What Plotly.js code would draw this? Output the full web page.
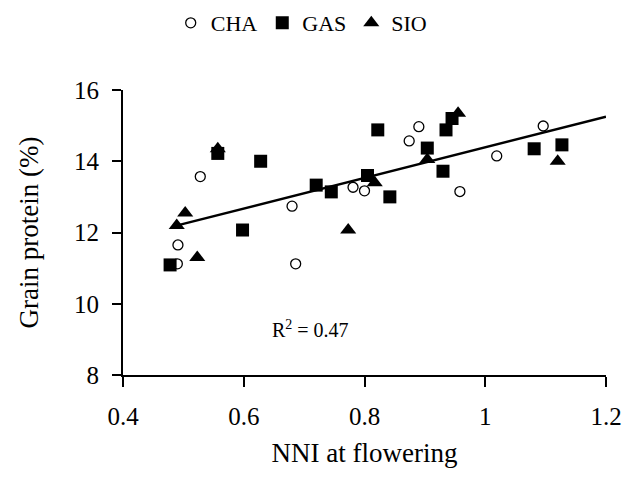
<!DOCTYPE html>
<html>
<head>
<meta charset="utf-8">
<script src="https://cdn.plot.ly/plotly-3.0.1.min.js"></script>
<style>html,body{margin:0;padding:0;background:#fff;}#chart{width:623px;height:494px;}</style>
</head>
<body>
<div id="chart"></div>
<script>
// CHA (open circles)
const chaX = [0.490, 0.491, 0.528, 0.680, 0.686, 0.781, 0.800, 0.874, 0.890, 0.958, 1.019, 1.096];
const chaY = [11.12, 11.65, 13.57, 12.74, 11.12, 13.27, 13.17, 14.57, 14.97, 13.15, 14.15, 14.99];
// GAS (filled squares)
const gasX = [0.478, 0.557, 0.598, 0.628, 0.720, 0.745, 0.805, 0.822, 0.842, 0.904, 0.930, 0.935, 0.945, 1.081, 1.127];
const gasY = [11.09, 14.22, 12.07, 14.00, 13.33, 13.14, 13.60, 14.88, 13.00, 14.37, 13.72, 14.88, 15.20, 14.35, 14.46];
// SIO (filled triangles)
const sioX = [0.489, 0.503, 0.523, 0.557, 0.773, 0.817, 0.904, 0.955, 1.120];
const sioY = [12.20, 12.55, 11.30, 14.35, 12.07, 13.40, 14.05, 15.35, 14.00];
// fitted line
const fitX = [0.49, 1.2];
const fitY = [12.2, 15.25];
const r2Label = "R<sup>2</sup> = 0.47";
const xTicks = [0.4, 0.6, 0.8, 1, 1.2];
const yTicks = [8, 10, 12, 14, 16];

const serif = "Liberation Serif, Times New Roman, serif";

const traces = [
  {x: fitX, y: fitY, mode: 'lines', line: {color: '#000', width: 2.5}, showlegend: false, hoverinfo: 'skip'},
  {x: chaX, y: chaY, mode: 'markers', name: 'CHA',
   marker: {symbol: 'circle-open', size: 10, color: '#000', line: {width: 1.3, color: '#000'}}},
  {x: gasX, y: gasY, mode: 'markers', name: 'GAS',
   marker: {symbol: 'square', size: 13, color: '#000'}},
  {x: sioX, y: sioY, mode: 'markers', name: 'SIO',
   marker: {symbol: 'triangle-up', size: 14, color: '#000'}}
];

const layout = {
  width: 623, height: 494,
  margin: {l: 123, r: 17, t: 90, b: 119, autoexpand: false},
  paper_bgcolor: '#fff', plot_bgcolor: '#fff',
  font: {family: serif, size: 24, color: '#000'},
  showlegend: true,
  legend: {orientation: 'h', x: 0.37, xanchor: 'center', y: 1.235, yanchor: 'middle',
           font: {family: serif, size: 22, color: '#000'}, itemwidth: 30, tracegroupgap: 0},
  xaxis: {
    range: [0.4, 1.2], tickvals: xTicks, ticktext: xTicks.map(String),
    showgrid: false, zeroline: false, showline: true, linecolor: '#000', linewidth: 2,
    ticks: 'outside', ticklen: 10, tickwidth: 2, tickcolor: '#000', ticklabelstandoff: 8,
    tickfont: {family: serif, size: 25, color: '#000'},
    title: {text: 'NNI at flowering', font: {family: serif, size: 27, color: '#000'}, standoff: 14}
  },
  yaxis: {
    range: [8, 16], tickvals: yTicks, ticktext: yTicks.map(String),
    showgrid: false, zeroline: false, showline: true, linecolor: '#000', linewidth: 2,
    ticks: 'outside', ticklen: 9, tickwidth: 2, tickcolor: '#000', ticklabelstandoff: 8,
    tickfont: {family: serif, size: 25, color: '#000'},
    title: {text: 'Grain protein (%)', font: {family: serif, size: 27, color: '#000'}, standoff: 28}
  },
  annotations: [{
    x: 0.71, y: 9.3, xref: 'x', yref: 'y', text: r2Label, showarrow: false,
    font: {family: serif, size: 20, color: '#000'}
  }]
};

Plotly.newPlot('chart', traces, layout, {displayModeBar: false, staticPlot: true});
</script>
</body>
</html>
